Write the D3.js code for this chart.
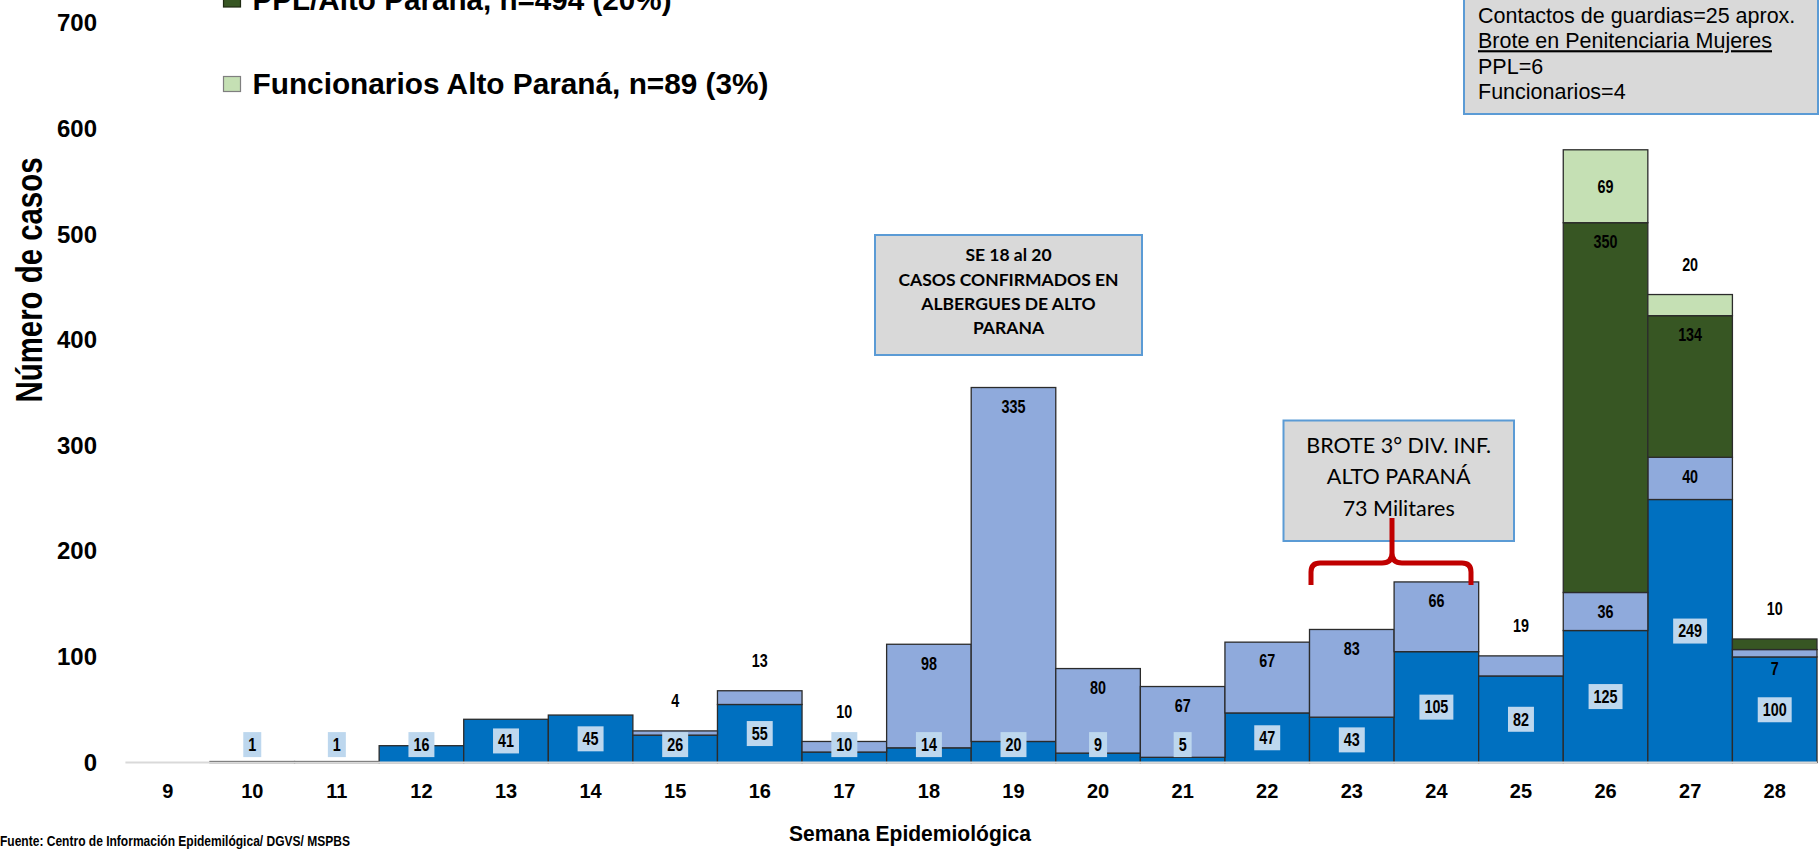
<!DOCTYPE html>
<html>
<head>
<meta charset="utf-8">
<script src="https://cdn.jsdelivr.net/npm/d3@7"></script>
<style>
  html, body { margin: 0; padding: 0; background: #ffffff; }
  svg { display: block; }
</style>
</head>
<body>
<svg id="chart" width="1820" height="851"></svg>
<script>
// ---- Data ----
const weeks = ["9","10","11","12","13","14","15","16","17","18","19","20","21","22","23","24","25","26","27","28"];
const blueCases      = [0, 1, 1, 16, 41, 45, 26, 55, 10, 14, 20, 9, 5, 47, 43, 105, 82, 125, 249, 100];
const albergueCases  = [0, 0, 0, 0, 0, 0, 4, 13, 10, 98, 335, 80, 67, 67, 83, 66, 19, 36, 40, 7];
const pplCases       = [0, 0, 0, 0, 0, 0, 0, 0, 0, 0, 0, 0, 0, 0, 0, 0, 0, 350, 134, 10];
const funcCases      = [0, 0, 0, 0, 0, 0, 0, 0, 0, 0, 0, 0, 0, 0, 0, 0, 0, 69, 20, 0];
const yTicks = [0, 100, 200, 300, 400, 500, 600, 700];
const legendItems = ["PPL/Alto Paraná, n=494 (20%)", "Funcionarios Alto Paraná, n=89 (3%)"];

// ---- Series styling ----
const seriesDefs = [
  { key: "blue",  values: blueCases,     fill: "#0070C0", label: "box" },
  { key: "alb",   values: albergueCases, fill: "#8FAADC", label: "end" },
  { key: "ppl",   values: pplCases,      fill: "#375623", label: "end" },
  { key: "func",  values: funcCases,     fill: "#C5E0B4", label: "center" }
];

const rows = weeks.map((w, i) => {
  const r = { week: w };
  seriesDefs.forEach(s => r[s.key] = s.values[i]);
  return r;
});

const svg = d3.select("#chart");
const FONT = "'Liberation Sans', Arial, sans-serif";

const x = d3.scaleBand().domain(weeks).range([125.4, 1817]).padding(0);
const y = d3.scaleLinear().domain([0, 700]).range([762.6, 23]);

const stack = d3.stack().keys(seriesDefs.map(s => s.key));
const stacked = stack(rows);

// ---- Bars ----
const barsG = svg.append("g");
stacked.forEach((layer, li) => {
  const def = seriesDefs[li];
  barsG.append("g").selectAll("rect")
    .data(layer.filter(d => d[1] - d[0] > 0))
    .join("rect")
    .attr("x", d => x(d.data.week))
    .attr("width", x.bandwidth())
    .attr("y", d => y(d[1]))
    .attr("height", d => y(d[0]) - y(d[1]))
    .attr("fill", def.fill)
    .attr("stroke", "#2b2b2b")
    .attr("stroke-width", 1.3);
});

// ---- X axis baseline ----
svg.append("line")
  .attr("x1", x.range()[0]).attr("x2", x.range()[1])
  .attr("y1", y(0)).attr("y2", y(0))
  .attr("stroke", "#D9D9D9").attr("stroke-width", 2);

// ---- Axes ----
const xAxis = svg.append("g")
  .attr("transform", `translate(0,${y(0)})`)
  .call(d3.axisBottom(x).tickSize(0));
xAxis.select(".domain").remove();
xAxis.selectAll("text")
  .attr("y", 35).attr("dy", null)
  .attr("font-family", FONT).attr("font-weight", "bold")
  .attr("font-size", 20).attr("fill", "#000");

const yAxis = svg.append("g")
  .attr("transform", "translate(97,0)")
  .call(d3.axisLeft(y).tickValues(yTicks).tickSize(0).tickPadding(0));
yAxis.select(".domain").remove();
yAxis.selectAll("text")
  .attr("font-family", FONT).attr("font-weight", "bold")
  .attr("font-size", 24).attr("fill", "#000");

// ---- Data labels ----
const labelsG = svg.append("g");
stacked.forEach((layer, li) => {
  const def = seriesDefs[li];
  layer.forEach((d, i) => {
    const v = d[1] - d[0];
    if (v <= 0) return;
    const cx = x(d.data.week) + x.bandwidth() / 2;
    const top = y(d[1]), bot = y(d[0]);
    const segH = bot - top;
    const isTop = stacked.slice(li + 1).every(L => L[i][1] - L[i][0] === 0);
    let cy;
    if (def.label === "box") {
      cy = Math.min((top + bot) / 2, bot - 18);
    } else if (def.label === "center") {
      cy = (isTop && segH < 30) ? top - 30 : (top + bot) / 2;
    } else {
      cy = (isTop && segH < 30) ? top - 30 : top + 19;
    }
    const g = labelsG.append("g");
    const t = g.append("text")
      .attr("x", cx).attr("y", cy)
      .attr("dy", "0.36em")
      .attr("text-anchor", "middle")
      .attr("font-family", FONT).attr("font-weight", "bold")
      .attr("font-size", 17.5).attr("fill", "#000")
      .text(v);
    const tw = t.node().getComputedTextLength() * 0.82;
    t.attr("transform", `translate(${cx},0) scale(0.82,1) translate(${-cx},0)`);
    if (def.label === "box") {
      g.insert("rect", "text")
        .attr("x", cx - tw / 2 - 5).attr("width", tw + 10)
        .attr("y", cy - 12.5).attr("height", 25)
        .attr("fill", "#BDD7EE");
    }
  });
});

// ---- Axis titles ----
svg.append("text")
  .attr("transform", "translate(42,280) rotate(-90)")
  .attr("text-anchor", "middle")
  .attr("font-family", FONT).attr("font-weight", "bold")
  .attr("font-size", 36).attr("fill", "#000")
  .attr("textLength", 245).attr("lengthAdjust", "spacingAndGlyphs")
  .text("Número de casos");

svg.append("text")
  .attr("x", 910).attr("y", 841)
  .attr("text-anchor", "middle")
  .attr("font-family", FONT).attr("font-weight", "bold")
  .attr("font-size", 21.5).attr("fill", "#000")
  .attr("textLength", 242).attr("lengthAdjust", "spacingAndGlyphs")
  .text("Semana Epidemiológica");

svg.append("text")
  .attr("x", 0).attr("y", 846)
  .attr("font-family", FONT).attr("font-weight", "bold")
  .attr("font-size", 15).attr("fill", "#000")
  .attr("textLength", 350).attr("lengthAdjust", "spacingAndGlyphs")
  .text("Fuente: Centro de Información Epidemilógica/ DGVS/ MSPBS");

// ---- Legend ----
const legendFills = [seriesDefs[2].fill, seriesDefs[3].fill];
const legendStroke = ["#1e2a12", "#7f7f7f"];
const legendLen = [419, 516];
legendItems.forEach((txt, i) => {
  const by = 9.5 + i * 84.5;
  svg.append("rect")
    .attr("x", 223.5).attr("y", by - 17.5)
    .attr("width", 17).attr("height", 15)
    .attr("fill", legendFills[i]).attr("stroke", legendStroke[i]).attr("stroke-width", 1.2);
  svg.append("text")
    .attr("x", 252.5).attr("y", by)
    .attr("font-family", FONT).attr("font-weight", "bold")
    .attr("font-size", 29.5).attr("fill", "#000")
    .attr("textLength", legendLen[i]).attr("lengthAdjust", "spacingAndGlyphs")
    .text(txt);
});

// ---- Annotation: top-right box ----
svg.append("rect")
  .attr("x", 1464).attr("y", -10).attr("width", 354).attr("height", 124)
  .attr("fill", "#D9D9D9").attr("stroke", "#5B9BD5").attr("stroke-width", 2);
const trLines = ["Contactos de guardias=25 aprox.", "Brote en Penitenciaria Mujeres", "PPL=6", "Funcionarios=4"];
trLines.forEach((t, i) => {
  svg.append("text")
    .attr("x", 1478).attr("y", 22.7 + i * 25.5)
    .attr("font-family", FONT).attr("font-size", 21.5).attr("fill", "#000")
    .attr("text-decoration", i === 1 ? "underline" : null)
    .text(t);
});

// ---- Annotation: SE 18 al 20 box ----
const CAL = "Lato, 'Open Sans', sans-serif";
svg.append("rect")
  .attr("x", 875).attr("y", 235).attr("width", 267).attr("height", 120)
  .attr("fill", "#D9D9D9").attr("stroke", "#5B9BD5").attr("stroke-width", 2);
["SE 18 al 20", "CASOS CONFIRMADOS EN", "ALBERGUES DE ALTO", "PARANA"].forEach((t, i) => {
  svg.append("text")
    .attr("x", 1008.5).attr("y", 255 + i * 24.3).attr("dy", "0.36em")
    .attr("text-anchor", "middle")
    .attr("font-family", CAL).attr("font-weight", "bold")
    .attr("font-size", 17.5).attr("fill", "#000")
    .text(t);
});

// ---- Annotation: BROTE box ----
svg.append("rect")
  .attr("x", 1283.5).attr("y", 420.5).attr("width", 230.5).attr("height", 120.5)
  .attr("fill", "#D9D9D9").attr("stroke", "#5B9BD5").attr("stroke-width", 2);
["BROTE 3° DIV. INF.", "ALTO PARANÁ", "73 Militares"].forEach((t, i) => {
  svg.append("text")
    .attr("x", 1398.7).attr("y", 445 + i * 31.5).attr("dy", "0.36em")
    .attr("text-anchor", "middle")
    .attr("font-family", CAL)
    .attr("font-size", 21.5).attr("fill", "#000")
    .text(t);
});

// ---- Red brace ----
svg.append("path")
  .attr("d", "M1311,585 L1311,572 Q1311,563 1320,563 L1382,563 Q1392,563 1392,553 L1392,518 M1392,553 Q1392,563 1402,563 L1462,563 Q1471,563 1471,572 L1471,585")
  .attr("fill", "none").attr("stroke", "#C00000").attr("stroke-width", 5)
  .attr("stroke-linejoin", "round");
</script>
</body>
</html>
